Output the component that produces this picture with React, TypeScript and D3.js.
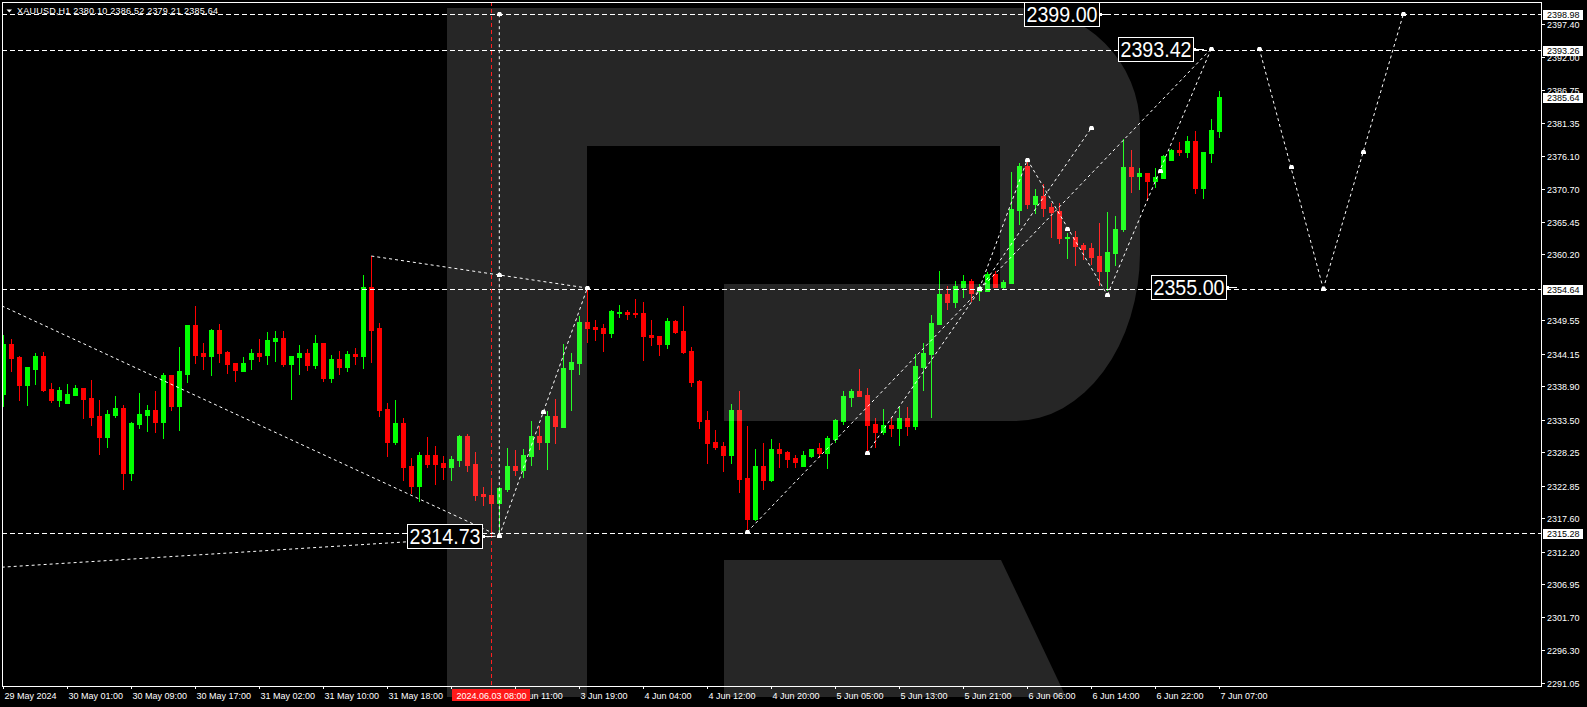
import React from 'react';
import * as d3 from 'd3';

// ---------- DATA ----------
const opens = [
  2337.66, 2345.73, 2343.63, 2339.11, 2341.70, 2343.79, 2338.47, 2336.69, 2336.21, 2337.50,
  2338.63, 2337.01, 2334.11, 2330.72, 2334.27, 2335.40, 2324.90, 2332.82, 2334.27, 2335.08,
  2333.14, 2340.73, 2335.72, 2340.89, 2348.80, 2344.28, 2343.79, 2347.99, 2344.44, 2342.66,
  2341.37, 2343.31, 2344.28, 2343.96, 2346.22, 2346.70, 2342.50, 2343.63, 2344.28, 2342.34,
  2345.89, 2340.24, 2343.31, 2342.02, 2344.12, 2343.79, 2354.93, 2348.31, 2335.24, 2329.91,
  2332.98, 2326.03, 2322.86, 2327.81, 2327.81, 2326.57, 2325.93, 2327.01, 2330.88, 2326.42,
  2321.52, 2321.36, 2320.11, 2322.32, 2326.03, 2325.38, 2327.65, 2330.88, 2329.91, 2334.11,
  2332.33, 2341.70, 2342.66, 2349.28, 2348.47, 2348.31, 2347.51, 2350.74, 2350.90, 2350.79,
  2350.74, 2347.18, 2347.02, 2345.73, 2349.44, 2347.83, 2344.60, 2339.76, 2333.46, 2329.91,
  2329.26, 2327.81, 2335.08, 2324.09, 2317.48, 2326.03, 2323.77, 2328.78, 2328.30, 2327.33,
  2326.03, 2327.65, 2328.94, 2328.14, 2330.39, 2333.30, 2337.17, 2338.14, 2337.50, 2332.82,
  2331.52, 2332.65, 2332.17, 2333.78, 2332.49, 2342.02, 2344.12, 2348.96, 2353.80, 2352.51,
  2354.93, 2355.89, 2354.29, 2354.34, 2357.03, 2354.98, 2355.65, 2367.41, 2374.47, 2368.38,
  2369.63, 2367.85, 2367.20, 2362.89, 2362.99, 2361.76, 2361.28, 2359.94, 2357.52, 2360.47,
  2364.30, 2374.31, 2372.90, 2373.34, 2372.10, 2372.53, 2375.44, 2377.05, 2376.73, 2378.50,
  2370.97, 2376.62, 2380.10,
];
const highs = [
  2347.18, 2346.54, 2343.79, 2342.02, 2344.28, 2344.44, 2339.43, 2338.79, 2339.27, 2339.11,
  2338.63, 2339.92, 2336.69, 2335.08, 2337.34, 2335.88, 2333.14, 2337.82, 2335.88, 2338.14,
  2341.05, 2340.73, 2345.25, 2348.80, 2351.87, 2345.89, 2348.15, 2348.96, 2344.60, 2342.66,
  2343.63, 2344.92, 2346.54, 2347.67, 2347.83, 2347.83, 2343.79, 2345.57, 2344.92, 2347.18,
  2345.89, 2343.96, 2344.60, 2344.60, 2345.09, 2356.87, 2359.94, 2349.12, 2336.21, 2336.69,
  2333.78, 2327.33, 2328.30, 2330.72, 2329.26, 2327.65, 2327.65, 2331.04, 2331.20, 2328.30,
  2322.64, 2323.61, 2322.64, 2328.94, 2328.62, 2328.78, 2333.30, 2332.49, 2334.92, 2336.85,
  2345.73, 2344.28, 2350.25, 2354.88, 2349.60, 2348.96, 2351.22, 2352.03, 2351.22, 2353.00,
  2352.51, 2349.60, 2347.02, 2349.93, 2349.60, 2351.87, 2345.25, 2339.92, 2334.92, 2331.85,
  2329.91, 2336.04, 2338.14, 2332.49, 2328.78, 2329.75, 2330.39, 2329.75, 2328.46, 2327.81,
  2328.46, 2328.78, 2329.75, 2330.88, 2333.62, 2338.14, 2338.47, 2341.70, 2338.63, 2333.78,
  2335.24, 2333.95, 2335.56, 2335.56, 2344.12, 2345.89, 2350.41, 2357.52, 2355.08, 2355.89,
  2356.87, 2356.22, 2355.42, 2357.36, 2357.57, 2356.06, 2373.55, 2374.91, 2375.16, 2370.76,
  2371.56, 2368.45, 2368.49, 2363.65, 2364.02, 2362.07, 2362.07, 2365.22, 2367.04, 2366.40,
  2378.78, 2377.05, 2374.15, 2373.34, 2374.10, 2376.25, 2377.22, 2378.34, 2379.31, 2380.12,
  2376.73, 2382.05, 2386.52,
];
const lows = [
  2335.77, 2341.37, 2336.69, 2335.88, 2339.27, 2338.14, 2336.37, 2335.72, 2336.21, 2337.50,
  2333.78, 2332.65, 2327.97, 2329.10, 2333.95, 2322.32, 2323.77, 2332.17, 2331.69, 2331.52,
  2330.55, 2335.08, 2331.85, 2339.60, 2342.66, 2341.70, 2340.73, 2342.82, 2341.05, 2339.76,
  2341.37, 2341.70, 2342.98, 2342.50, 2342.98, 2342.18, 2336.85, 2340.89, 2341.53, 2341.86,
  2339.76, 2339.60, 2340.89, 2341.37, 2342.50, 2341.86, 2342.82, 2334.11, 2327.65, 2329.58,
  2323.77, 2321.73, 2320.43, 2325.93, 2323.18, 2323.94, 2323.77, 2326.09, 2325.28, 2320.59,
  2319.79, 2314.73, 2315.22, 2322.05, 2324.58, 2324.26, 2326.19, 2328.78, 2325.60, 2329.75,
  2332.33, 2335.08, 2340.89, 2346.05, 2346.38, 2344.60, 2346.86, 2350.09, 2349.77, 2350.09,
  2343.15, 2345.57, 2343.96, 2345.09, 2347.51, 2344.28, 2338.95, 2332.17, 2326.57, 2328.78,
  2325.28, 2326.57, 2321.89, 2315.43, 2317.32, 2322.32, 2323.61, 2325.87, 2325.87, 2325.87,
  2326.03, 2327.49, 2327.49, 2325.71, 2329.91, 2332.82, 2335.72, 2337.34, 2327.97, 2329.10,
  2331.20, 2330.88, 2329.42, 2331.04, 2332.01, 2338.31, 2333.95, 2348.96, 2351.38, 2351.71,
  2353.32, 2352.67, 2352.84, 2354.34, 2354.98, 2354.56, 2355.65, 2365.15, 2367.64, 2366.83,
  2366.45, 2363.05, 2362.04, 2359.66, 2358.49, 2359.40, 2358.60, 2355.26, 2354.45, 2358.44,
  2364.02, 2370.32, 2370.81, 2368.98, 2371.03, 2372.53, 2375.44, 2376.25, 2375.92, 2370.16,
  2369.35, 2375.16, 2379.21,
];
const closes = [
  2345.73, 2343.52, 2339.11, 2342.02, 2343.79, 2338.31, 2336.69, 2338.31, 2337.66, 2338.63,
  2336.85, 2333.95, 2330.72, 2334.43, 2335.40, 2324.90, 2332.98, 2334.43, 2335.08, 2333.14,
  2340.73, 2335.72, 2341.37, 2348.80, 2343.96, 2343.79, 2347.99, 2344.28, 2342.50, 2341.53,
  2342.66, 2344.28, 2343.79, 2346.38, 2346.70, 2342.50, 2343.79, 2344.28, 2342.34, 2345.89,
  2340.24, 2343.31, 2342.02, 2344.12, 2343.79, 2354.93, 2347.99, 2335.08, 2329.91, 2332.98,
  2325.93, 2322.86, 2327.81, 2326.42, 2326.42, 2325.93, 2327.17, 2330.88, 2326.25, 2321.40,
  2321.24, 2320.11, 2322.48, 2326.03, 2325.38, 2327.81, 2330.88, 2329.91, 2334.11, 2332.49,
  2341.86, 2342.82, 2349.28, 2348.31, 2348.15, 2347.51, 2351.06, 2350.90, 2350.57, 2350.57,
  2347.02, 2346.86, 2345.73, 2349.44, 2347.67, 2344.44, 2339.60, 2333.30, 2329.80, 2329.10,
  2327.81, 2335.08, 2323.94, 2317.48, 2326.03, 2323.77, 2328.78, 2328.14, 2327.17, 2326.68,
  2327.81, 2328.78, 2328.14, 2330.55, 2333.46, 2337.34, 2338.14, 2337.34, 2332.65, 2331.52,
  2332.65, 2332.17, 2333.78, 2332.49, 2342.18, 2344.28, 2349.12, 2353.80, 2352.51, 2355.08,
  2355.89, 2353.97, 2354.93, 2357.03, 2354.98, 2355.79, 2367.53, 2374.47, 2368.38, 2369.63,
  2367.69, 2367.09, 2362.89, 2363.05, 2361.60, 2361.12, 2359.78, 2357.52, 2360.58, 2364.30,
  2374.31, 2372.90, 2373.34, 2372.10, 2372.70, 2376.09, 2377.05, 2376.78, 2378.50, 2370.97,
  2376.73, 2380.28, 2385.64,
];

const timeLabels = [
  '29 May 2024', '30 May 01:00', '30 May 09:00', '30 May 17:00', '31 May 02:00', '31 May 10:00',
  '31 May 18:00', '3 Jun 03:00', '3 Jun 11:00', '3 Jun 19:00', '4 Jun 04:00', '4 Jun 12:00',
  '4 Jun 20:00', '5 Jun 05:00', '5 Jun 13:00', '5 Jun 21:00', '6 Jun 06:00', '6 Jun 14:00',
  '6 Jun 22:00', '7 Jun 07:00',
];
const timeLabelBars = [0, 8, 16, 24, 32, 40, 48, 56, 64, 72, 80, 88, 96, 104, 112, 120, 128, 136, 144, 152];

const priceTicks = [
  2397.40, 2392.00, 2386.75, 2381.35, 2376.10, 2370.70, 2365.45, 2360.20, 2349.55, 2344.15,
  2338.90, 2333.50, 2328.25, 2322.85, 2317.60, 2312.20, 2306.95, 2301.70, 2296.30, 2291.05,
];

const levelPrices = [2398.98, 2393.26, 2354.64, 2315.28];
const currentPrice = 2385.64;

const noteTexts = ['2399.00', '2393.42', '2355.00', '2314.73'];
const noteBars = [138.2, 150, 154.1, 61.1];
const notePrices = [2399.0, 2393.42, 2355.0, 2314.73];

const crossBar = 61;
const crossLabel = '2024.06.03 08:00';

// wave / trend segments: [bar, price] pairs
const waveSegments: [number, number][][] = [
  [[-0.2, 2351.9], [62, 2314.73]],
  [[-0.2, 2309.7], [62, 2314.73]],
  [[46, 2359.94], [73, 2354.77]],
  [[62, 2398.98], [62, 2314.73]],
  [[62, 2314.73], [73, 2354.77]],
  [[93, 2315.4], [151, 2393.42]],
  [[108, 2328.14], [136, 2380.6]],
  [[122, 2354.64], [128, 2375.5]],
  [[128, 2375.5], [138, 2353.64]],
  [[138, 2353.64], [151, 2393.42]],
  [[157, 2393.42], [165, 2354.64]],
  [[165, 2354.64], [175, 2398.98]],
];
const waveMarkers: [number, number][] = [
  [62, 2398.98], [62, 2356.87], [62, 2314.73], [67.5, 2334.76], [73, 2354.77],
  [93, 2315.4], [108, 2328.14], [122, 2354.64], [128, 2375.5], [133, 2364.3],
  [136, 2380.6], [138, 2353.64], [144.6, 2373.7], [151, 2393.42], [157, 2393.42],
  [161, 2374.26], [165, 2354.64], [170, 2376.78], [175, 2398.98],
];

// ---------- LAYOUT ----------
const W = 1587;
const H = 707;
const L = 2, R = 1541, T = 2, B = 686;
const FONT = "'Liberation Sans', Arial, sans-serif";

const x = d3.scaleLinear().domain([0, 152]).range([3.3, 1219.3]);
const y = d3.scaleLinear().domain([2291.05, 2397.4]).range([682.7, 24]);

const UP = '#00ff00';
const DN = '#ff0000';

function Note({ text, bar, price }: { text: string; bar: number; price: number }) {
  const tip = x(bar);
  const yc = Math.round(y(price)) + 0.5;
  const bw = 75, bh = 24;
  const right = Math.round(tip - 10) + 0.5;
  const left = right - bw;
  return (
    <g>
      <rect x={left} y={yc - bh / 2} width={bw} height={bh} fill="#000" stroke="#fff" strokeWidth={1} shapeRendering="crispEdges" />
      <text x={left + 2} y={yc + 7.5} fill="#fff" fontFamily={FONT} fontSize={22}
        textLength={71} lengthAdjust="spacingAndGlyphs">{text}</text>
      <rect x={right + 0.5} y={yc - 1.5} width={2} height={3} fill="#fff" />
      <line x1={right} x2={right + 10} y1={yc} y2={yc} stroke="#fff" strokeWidth={1} shapeRendering="crispEdges" />
    </g>
  );
}

function Marker({ bar, price }: { bar: number; price: number }) {
  const cx = Math.round(x(bar));
  const cy = Math.round(y(price));
  return (
    <path d={`M${cx - 1},${cy - 2} H${cx + 2} L${cx + 3},${cy} V${cy + 2} H${cx - 2} V${cy} Z`} fill="#fff" />
  );
}

export default function App() {
  const n = opens.length;
  const last = n - 1;
  const watermarkOuter =
    'M447,8 H1020 A120,120 0 0 1 1140,128 V252 A125,169 0 0 1 1015,421 H724 V284 H587 V697 H447 Z ' +
    'M587,146 H1000 V284 H587 Z';
  const watermarkLeg = 'M724,560 H1001 L1066,697 H724 Z';
  const crossX = Math.round(x(crossBar));

  return (
    <svg width={W} height={H} style={{ position: 'absolute', left: 0, top: 0, background: '#000', display: 'block' }}
      xmlns="http://www.w3.org/2000/svg">
      <defs>
        <clipPath id="plot">
          <rect x={L + 1} y={T + 1} width={R - L - 1} height={B - T - 1} />
        </clipPath>
      </defs>
      <rect x={0} y={0} width={W} height={H} fill="#000" />

      {/* candles */}
      <g clipPath="url(#plot)" shapeRendering="crispEdges">
        {opens.map((o, i) => {
          const c = closes[i];
          const up = c >= o;
          const col = up ? UP : DN;
          const cx = Math.round(x(i));
          const yt = Math.round(y(Math.max(o, c)));
          const yb = Math.round(y(Math.min(o, c)));
          const yh = Math.round(y(highs[i]));
          const yl = Math.round(y(lows[i]));
          return (
            <g key={i}>
              <rect x={cx} y={yh} width={1} height={Math.max(1, yl - yh + 1)} fill={col} />
              <rect x={cx - 2} y={yt} width={5} height={Math.max(1, yb - yt + 1)} fill={col} />
            </g>
          );
        })}
      </g>

      {/* watermark overlay */}
      <path d={watermarkOuter} fill="#fff" fillOpacity={0.149} fillRule="evenodd" />
      <path d={watermarkLeg} fill="#fff" fillOpacity={0.149} />

      {/* horizontal levels */}
      <g shapeRendering="crispEdges">
        {levelPrices.map((p, i) => {
          const yy = Math.round(y(p)) + 0.5;
          return <line key={i} x1={L} x2={R} y1={yy} y2={yy} stroke="#fff" strokeDasharray="5,3" />;
        })}
      </g>

      {/* vertical red line */}
      <line x1={crossX + 0.5} x2={crossX + 0.5} y1={T} y2={B}
        stroke="#ff2020" strokeDasharray="4,3" shapeRendering="crispEdges" />

      {/* wave lines */}
      <g clipPath="url(#plot)">
        {waveSegments.map((s, i) => (
          <line key={i} x1={x(s[0][0])} y1={y(s[0][1])} x2={x(s[1][0])} y2={y(s[1][1])}
            stroke="#fff" strokeWidth={1} strokeDasharray="3,3" />
        ))}
        {waveMarkers.map((m, i) => <Marker key={i} bar={m[0]} price={m[1]} />)}
      </g>

      {/* notes */}
      {noteTexts.map((t, i) => <Note key={i} text={t} bar={noteBars[i]} price={notePrices[i]} />)}

      {/* frame */}
      <rect x={L + 0.5} y={T + 0.5} width={R - L} height={B - T} fill="none" stroke="#fff" strokeWidth={1} shapeRendering="crispEdges" />

      {/* price axis */}
      <g fontFamily={FONT} fontSize={9} fill="#fff">
        {priceTicks.map((p, i) => {
          const yy = Math.round(y(p)) + 0.5;
          return (
            <g key={i}>
              <line x1={R} x2={R + 4} y1={yy} y2={yy} stroke="#fff" shapeRendering="crispEdges" />
              <text x={R + 6} y={yy + 3.3}>{p.toFixed(2)}</text>
            </g>
          );
        })}
        {[...levelPrices, currentPrice].map((p, i) => {
          const yy = Math.round(y(p)) + 0.5;
          return (
            <g key={'b' + i}>
              <rect x={R + 2} y={yy - 5} width={40} height={10} fill="#fff" shapeRendering="crispEdges" />
              <text x={R + 6} y={yy + 3.3} fill="#000">{p.toFixed(2)}</text>
            </g>
          );
        })}
      </g>

      {/* time axis */}
      <g fontFamily={FONT} fontSize={9} fill="#fff">
        {timeLabels.map((t, i) => {
          const xx = Math.round(x(timeLabelBars[i])) + 0.5;
          // the label that falls fully under the red time box is hidden in the source chart
          const hidden = Math.abs(xx - crossX) < 45 && xx < crossX;
          return (
            <g key={i}>
              <line x1={xx} x2={xx} y1={B} y2={B + 3} stroke="#fff" shapeRendering="crispEdges" />
              {!hidden && <text x={xx + 1} y={699}>{t}</text>}
            </g>
          );
        })}
        <rect x={crossX - 39} y={689} width={78} height={12} fill="#ff1a1a" />
        <text x={crossX + 0.5} y={699} textAnchor="middle" fill="#fff">{crossLabel}</text>
      </g>

      {/* title */}
      <path d="M6.5,9.5 H12 L9.25,12.5 Z" fill="#fff" />
      <text x={17} y={13.5} fill="#fff" fontFamily={FONT} fontSize={9} textLength={201} lengthAdjust="spacing">
        {`XAUUSD,H1  ${opens[last].toFixed(2)} ${highs[last].toFixed(2)} ${lows[last].toFixed(2)} ${closes[last].toFixed(2)}`}
      </text>
    </svg>
  );
}
